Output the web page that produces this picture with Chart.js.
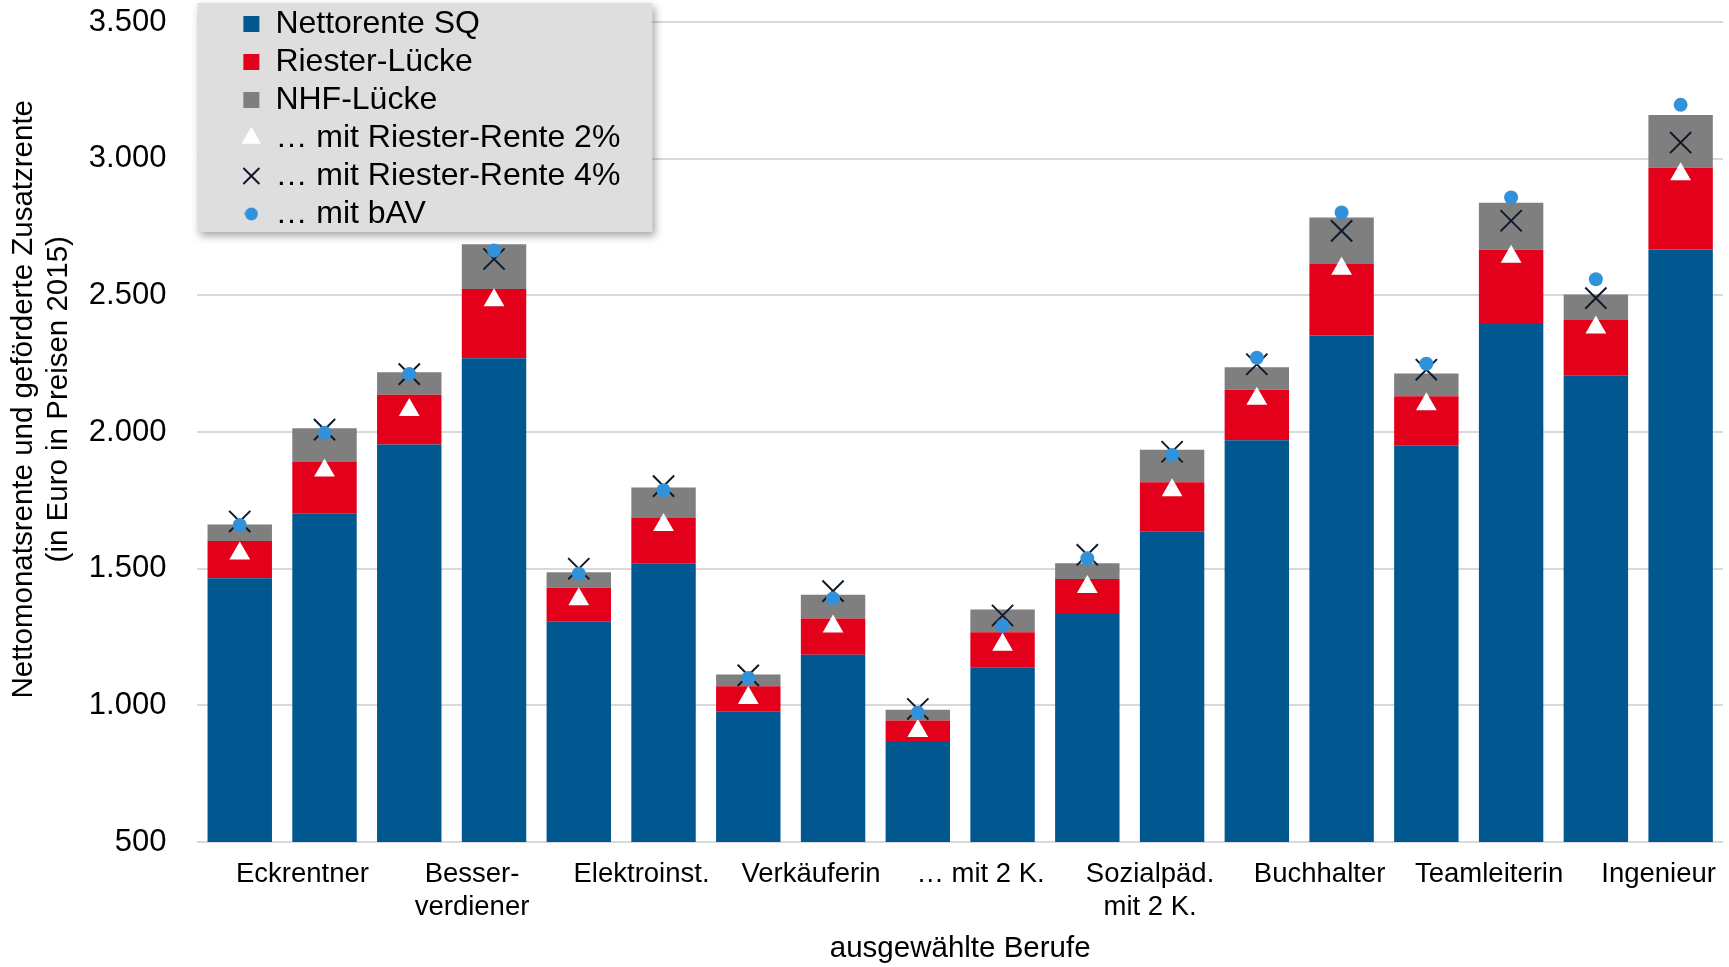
<!DOCTYPE html>
<html lang="de">
<head>
<meta charset="utf-8">
<title>Nettomonatsrente und geförderte Zusatzrente</title>
<script src="https://cdn.jsdelivr.net/npm/chart.js@4.4.1/dist/chart.umd.min.js"></script>
<style>
  html, body { margin: 0; padding: 0; background: #fff; }
  #wrap { width: 1729px; height: 967px; }
</style>
</head>
<body>
<div id="wrap"><canvas id="chart" width="1729" height="967"></canvas></div>
<script>
// 18 Balken, Beschriftung nur an jedem zweiten
const berufe = [
  '', 'Eckrentner', '', ['Besser-', 'verdiener'], '', 'Elektroinst.',
  '', 'Verkäuferin', '', '… mit 2 K.', '', ['Sozialpäd.', 'mit 2 K.'],
  '', 'Buchhalter', '', 'Teamleiterin', '', 'Ingenieur'
];

const nettorenteSQ = [1465, 1701, 1954, 2270, 1308, 1518, 979, 1185, 866, 1140, 1338, 1635, 1970, 2353, 1950, 2399, 2206, 2668];
const riesterLuecke = [136, 191, 182, 253, 122, 169, 91, 133, 79, 128, 124, 181, 185, 262, 181, 268, 204, 299];
const nhfLuecke = [61, 122, 83, 164, 57, 110, 43, 87, 39, 83, 58, 119, 82, 170, 83, 172, 93, 193];

const riester2 = [1556, 1859, 2081, 2482, 1388, 1660, 1027, 1289, 906, 1222, 1433, 1787, 2122, 2597, 2102, 2641, 2382, 2943];
const riester4 = [1673, 2009, 2212, 2633, 1500, 1802, 1110, 1418, 987, 1329, 1551, 1928, 2248, 2736, 2228, 2773, 2490, 3059];
const mitBAV = [1660, 1997, 2212, 2664, 1482, 1787, 1100, 1391, 973, 1291, 1538, 1916, 2272, 2803, 2250, 2858, 2559, 3197];

const yTicks = [500, 1000, 1500, 2000, 2500, 3000, 3500];

const fmt = (v) => String(v).replace(/\B(?=(\d{3})+(?!\d))/g, '.');

Chart.defaults.font.family = '"Liberation Sans", Arial, sans-serif';
Chart.defaults.color = '#000';

// kleiner Punkt nur fuer die Legende
const legendDot = document.createElement('canvas');
legendDot.width = 14;
legendDot.height = 14;
{
  const c = legendDot.getContext('2d');
  c.fillStyle = '#3192d9';
  c.beginPath();
  c.arc(7, 7, 6.5, 0, Math.PI * 2);
  c.fill();
}

// grauer Kasten mit Schatten hinter der Legende
const legendPanel = {
  id: 'legendPanel',
  afterLayout(chart) {
    const lg = chart.legend;
    lg.left = chart.chartArea.left + 40;
    lg.top = 2;
    if (!lg.panelPatched) {
      const draw = lg.draw;
      lg.draw = function (area) {
        const ctx = this.ctx;
        ctx.save();
        ctx.shadowColor = 'rgba(0,0,0,0.35)';
        ctx.shadowBlur = 8;
        ctx.shadowOffsetX = 3;
        ctx.shadowOffsetY = 4;
        ctx.fillStyle = '#dedede';
        ctx.fillRect(this.left - 40, this.top + 1, 455, 229);
        ctx.restore();
        draw.call(this, area);
      };
      lg.panelPatched = true;
    }
  }
};

const barBase = { type: 'bar', stack: 'rente', order: 10, pointStyle: 'rect', barPercentage: 0.76, categoryPercentage: 1 };

new Chart(document.getElementById('chart'), {
  type: 'bar',
  data: {
    labels: berufe,
    datasets: [
      { ...barBase, label: 'Nettorente SQ', data: nettorenteSQ, backgroundColor: '#01578f' },
      { ...barBase, label: 'Riester-Lücke', data: riesterLuecke, backgroundColor: '#e2001a' },
      { ...barBase, label: 'NHF-Lücke', data: nhfLuecke, backgroundColor: '#7f7f7f' },
      {
        type: 'line', label: '… mit Riester-Rente 2%', data: riester2, stack: 'r2', order: 3,
        showLine: false, pointStyle: 'triangle', pointRadius: 12, pointHoverRadius: 12,
        pointBackgroundColor: '#ffffff', pointBorderColor: '#ffffff', pointBorderWidth: 0
      },
      {
        type: 'line', label: '… mit Riester-Rente 4%', data: riester4, stack: 'r4', order: 2,
        showLine: false, pointStyle: 'crossRot', pointRadius: 15, pointHoverRadius: 15,
        pointBackgroundColor: '#0e1a2b', pointBorderColor: '#0e1a2b', pointBorderWidth: 2
      },
      {
        type: 'line', label: '… mit bAV', data: mitBAV, stack: 'bav', order: 1,
        showLine: false, pointStyle: 'circle', pointRadius: 7, pointHoverRadius: 7,
        pointBackgroundColor: '#3192d9', pointBorderColor: '#3192d9', pointBorderWidth: 0
      }
    ]
  },
  options: {
    responsive: false,
    animation: false,
    devicePixelRatio: 1,
    layout: { autoPadding: false, padding: { top: 22, right: 6, bottom: 0, left: 4 } },
    plugins: {
      tooltip: { enabled: false },
      legend: {
        position: 'chartArea',
        align: 'start',
        labels: {
          usePointStyle: true,
          boxWidth: 16,
          boxHeight: 16,
          padding: 6,
          color: '#000',
          font: { size: 32 },
          sort: (a, b) => a.datasetIndex - b.datasetIndex,
          generateLabels(chart) {
            const items = Chart.defaults.plugins.legend.labels.generateLabels(chart);
            items.forEach((it) => {
              if (it.text === '… mit bAV') it.pointStyle = legendDot;
            });
            return items;
          }
        }
      }
    },
    scales: {
      x: {
        stacked: true,
        grid: { display: true, drawOnChartArea: false, drawTicks: true, tickLength: 15.5, color: 'rgba(0,0,0,0)' },
        border: { display: false },
        ticks: {
          autoSkip: false,
          maxRotation: 0,
          minRotation: 0,
          padding: 0,
          labelOffset: -22,
          font: { size: 27.5 }
        },
        title: {
          display: true,
          text: 'ausgewählte Berufe',
          font: { size: 29.5 },
          padding: { top: 8, bottom: 0 }
        },
        afterFit(scale) {
          scale.paddingLeft = 0;
          scale.paddingRight = 0;
        }
      },
      y: {
        stacked: true,
        min: 500,
        max: 3500,
        afterBuildTicks(scale) {
          scale.ticks = yTicks.map((v) => ({ value: v }));
        },
        grid: { color: '#d9d9d9', lineWidth: 2, drawTicks: true, tickLength: 29, tickColor: 'rgba(0,0,0,0)' },
        border: { display: false },
        ticks: {
          padding: 2,
          font: { size: 31 },
          callback: (v) => fmt(v)
        },
        title: {
          display: true,
          text: [
            '        Nettomonatsrente und geförderte Zusatzrente',
            '        (in Euro in Preisen 2015)'
          ],
          font: { size: 29.5 },
          padding: { top: 2, bottom: 10 }
        }
      }
    }
  },
  plugins: [legendPanel]
});
</script>
</body>
</html>
